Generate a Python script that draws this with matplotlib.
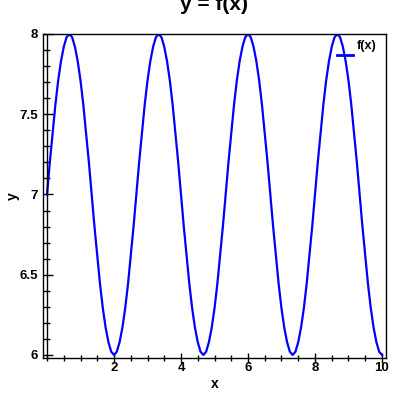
import numpy as np
import matplotlib
matplotlib.use('Agg')
import matplotlib.pyplot as plt
from matplotlib.ticker import MultipleLocator

plt.rcParams['font.family'] = ['Liberation Sans Narrow', 'Liberation Sans', 'DejaVu Sans']
plt.rcParams['font.weight'] = 'bold'

# y readings of f(x), one every 1/12 on x from 0 to 10
y_vals = [
    7.00, 7.20, 7.38, 7.56, 7.71, 7.83, 7.92, 7.98,
    8.00, 7.98, 7.92, 7.83, 7.71, 7.56, 7.38, 7.20,
    7.00, 6.80, 6.62, 6.44, 6.29, 6.17, 6.08, 6.02,
    6.00, 6.02, 6.08, 6.17, 6.29, 6.44, 6.62, 6.80,
    7.00, 7.20, 7.38, 7.56, 7.71, 7.83, 7.92, 7.98,
    8.00, 7.98, 7.92, 7.83, 7.71, 7.56, 7.38, 7.20,
    7.00, 6.80, 6.62, 6.44, 6.29, 6.17, 6.08, 6.02,
    6.00, 6.02, 6.08, 6.17, 6.29, 6.44, 6.62, 6.80,
    7.00, 7.20, 7.38, 7.56, 7.71, 7.83, 7.92, 7.98,
    8.00, 7.98, 7.92, 7.83, 7.71, 7.56, 7.38, 7.20,
    7.00, 6.80, 6.62, 6.44, 6.29, 6.17, 6.08, 6.02,
    6.00, 6.02, 6.08, 6.17, 6.29, 6.44, 6.62, 6.80,
    7.00, 7.20, 7.38, 7.56, 7.71, 7.83, 7.92, 7.98,
    8.00, 7.98, 7.92, 7.83, 7.71, 7.56, 7.38, 7.20,
    7.00, 6.80, 6.62, 6.44, 6.29, 6.17, 6.08, 6.02,
    6.00,
]
x_vals = np.linspace(0, 10, len(y_vals))

x_major = [2, 4, 6, 8, 10]
y_major = [6, 6.5, 7, 7.5, 8]

fig = plt.figure(figsize=(4, 4), dpi=100)
ax = fig.add_axes([43 / 400, 1 - 358 / 400, 343 / 400, 324 / 400])

ax.plot(x_vals, y_vals, color='#0000ff', lw=1.6, label='f(x)')
ax.axvline(0, color='black', lw=1.0)

ax.set_xlim(-0.12, 10.12)
ax.set_ylim(5.981, 8.0)

ax.set_xticks(x_major)
ax.set_yticks(y_major)
ax.set_yticklabels(['6', '6.5', '7', '7.5', '8'])
ax.xaxis.set_minor_locator(MultipleLocator(0.5))
ax.yaxis.set_minor_locator(MultipleLocator(0.1))

ax.tick_params(axis='x', which='major', direction='inout', length=6.5, width=1, pad=-0.5, labelsize=9.5)
ax.tick_params(axis='x', which='minor', direction='inout', length=4.3, width=1)
ax.tick_params(axis='y', which='major', direction='in', length=7.2, width=1, pad=3.5, labelsize=9.5)
ax.tick_params(axis='y', which='minor', direction='in', length=5, width=1)
for lab in ax.get_xticklabels() + ax.get_yticklabels():
    lab.set_fontweight('bold')

for sp in ax.spines.values():
    sp.set_linewidth(1.0)

# legend: short line with the label sitting above its right end
leg = ax.legend(loc='center left', bbox_to_anchor=((337 - 43) / 343, 1 - (56 - 34) / 324),
                frameon=False, fontsize=9, handlelength=1.3, handletextpad=0.3,
                borderaxespad=0, borderpad=0)
leg.get_lines()[0].set_linewidth(2.0)
for t in leg.get_texts():
    t.set_fontweight('bold')
    t.set_y(9.5)

fig.text(214.5 / 400, 1 - 9.5 / 400, 'y = f(x)', ha='center', va='baseline',
         fontsize=15, fontweight='bold')
fig.text(215 / 400, 1 - 384 / 400, 'x', ha='center', va='center', fontsize=10, fontweight='bold')
fig.text(13 / 400, 1 - 196 / 400, 'y', ha='center', va='center', rotation=90,
         fontsize=10, fontweight='bold')

fig.savefig('out.png', dpi=100)
